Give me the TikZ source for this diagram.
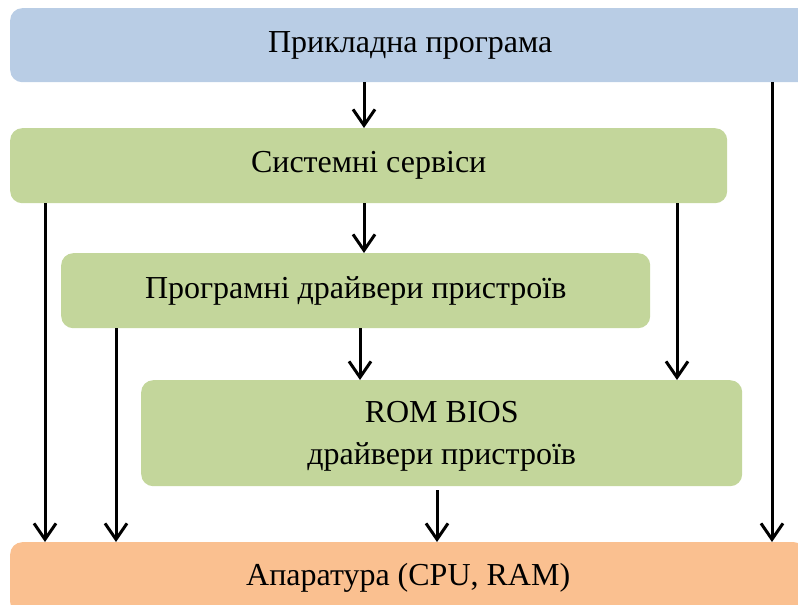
\documentclass[tikz,border=0pt]{standalone}
\usepackage{fontspec}
\setmainfont{Liberation Serif}
\usepackage{tikz}
\usetikzlibrary{arrows.meta,positioning}
\definecolor{appblue}{RGB}{185,205,229}
\definecolor{sysgreen}{RGB}{195,214,155}
\definecolor{hwpeach}{RGB}{250,192,144}

\begin{document}
\begin{tikzpicture}[x=1pt,y=-1pt,
  layer/.style={rounded corners=12pt, inner sep=0pt, anchor=north west, align=center, font=\fontsize{32}{42}\selectfont},
  arr/.style={-{Straight Barb[length=16pt,width=22pt,line width=3pt]}, line width=3pt}]
            \useasboundingbox (0,0) rectangle (798,605);
            \clip (0,0) rectangle (798,605);
            \node[layer, fill=appblue, minimum width=800, minimum height=74] (app) at (10,8) {Прикладна програма};
            \node[layer, fill=sysgreen, minimum width=717, minimum height=75] (sys) at (10,128) {Системні сервіси};
            \node[layer, fill=sysgreen, minimum width=589, minimum height=75] (drv) at (61,253) {Програмні драйвери пристроїв};
            \node[layer, fill=sysgreen, minimum width=601, minimum height=106, text depth=0pt] (bios) at (141,380) {ROM BIOS\\драйвери пристроїв};
            \node[layer, fill=hwpeach, minimum width=796, minimum height=72] (hw) at (10,542) {Апаратура (CPU, RAM)};
            \draw[arr] ([xshift=354]app.south west) -- ([xshift=354]sys.north west);
            \draw[arr] ([xshift=762]app.south west) -- ([xshift=762]hw.north west);
            \draw[arr] ([xshift=35]sys.south west) -- ([xshift=35]hw.north west);
            \draw[arr] ([xshift=354]sys.south west) -- ([xshift=303]drv.north west);
            \draw[arr] ([xshift=667]sys.south west) -- ([xshift=536]bios.north west);
            \draw[arr] ([xshift=55]drv.south west) -- ([xshift=106]hw.north west);
            \draw[arr] ([xshift=299]drv.south west) -- ([xshift=219]bios.north west);
            \draw[arr] ([xshift=296,yshift=-4]bios.south west) -- ([xshift=427]hw.north west);
            \end{tikzpicture}
\end{document}
